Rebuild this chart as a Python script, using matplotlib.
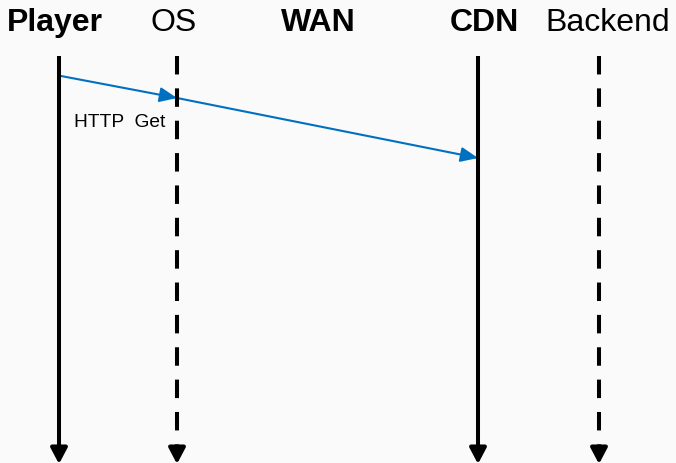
import matplotlib
matplotlib.use("Agg")
from matplotlib import pyplot as plt
from matplotlib.patches import FancyArrowPatch

plt.rcParams['font.family'] = ['Liberation Sans', 'DejaVu Sans']
plt.rcParams['lines.scale_dashes'] = False

# participants of the sequence diagram
names = ["Player", "OS", "WAN", "CDN", "Backend"]
bold = [True, False, True, True, False]
has_lifeline = [True, True, False, True, True]
dashed = [False, True, False, False, True]

# messages: (from participant, to participant)
messages = [("Player", "OS"), ("OS", "CDN")]
message_label = "HTTP  Get"

# layout (pixel coords, y downward)
W, H = 676, 464
label_x = [55, 174, 318, 484, 608]
line_x = [59, 177, 318, 478, 599]
top_y = 57
bottom_y = 464
msg_y = {"Player": 77, "OS": 99, "CDN": 159}

fig = plt.figure(figsize=(W / 100, H / 100), dpi=100)
fig.patch.set_facecolor("#fafafa")
ax = fig.add_axes([0, 0, 1, 1])
ax.set_xlim(0, W)
ax.set_ylim(H, 0)
ax.axis("off")

for i, name in enumerate(names):
    ax.text(label_x[i], 31, name, ha="center", va="baseline", fontsize=23,
            fontweight="bold" if bold[i] else "normal", color="black")
    if not has_lifeline[i]:
        continue
    x = line_x[i]
    ls = (0, (13.3, 10)) if dashed[i] else "-"
    ax.plot([x, x], [top_y, bottom_y - 12], color="black", lw=2.9,
            linestyle=ls, solid_capstyle="butt", dash_capstyle="butt")
    ax.add_patch(FancyArrowPatch((x, bottom_y - 14), (x, bottom_y + 1),
                                 arrowstyle="-|>,head_length=9.5,head_width=5",
                                 mutation_scale=1, color="black", lw=2.9,
                                 shrinkA=0, shrinkB=0))

for src, dst in messages:
    x0 = line_x[names.index(src)] + (2 if src == "Player" else 0)
    x1 = line_x[names.index(dst)]
    ax.add_patch(FancyArrowPatch((x0, msg_y[src]), (x1, msg_y[dst]),
                                 arrowstyle="-|>,head_length=10.5,head_width=4.5",
                                 mutation_scale=1, color="#0070c0", lw=1.5,
                                 shrinkA=0, shrinkB=0))

ax.text(74, 127, message_label, ha="left", va="baseline", fontsize=13.8, color="black")

fig.savefig("out.png", dpi=100, facecolor=fig.get_facecolor())
